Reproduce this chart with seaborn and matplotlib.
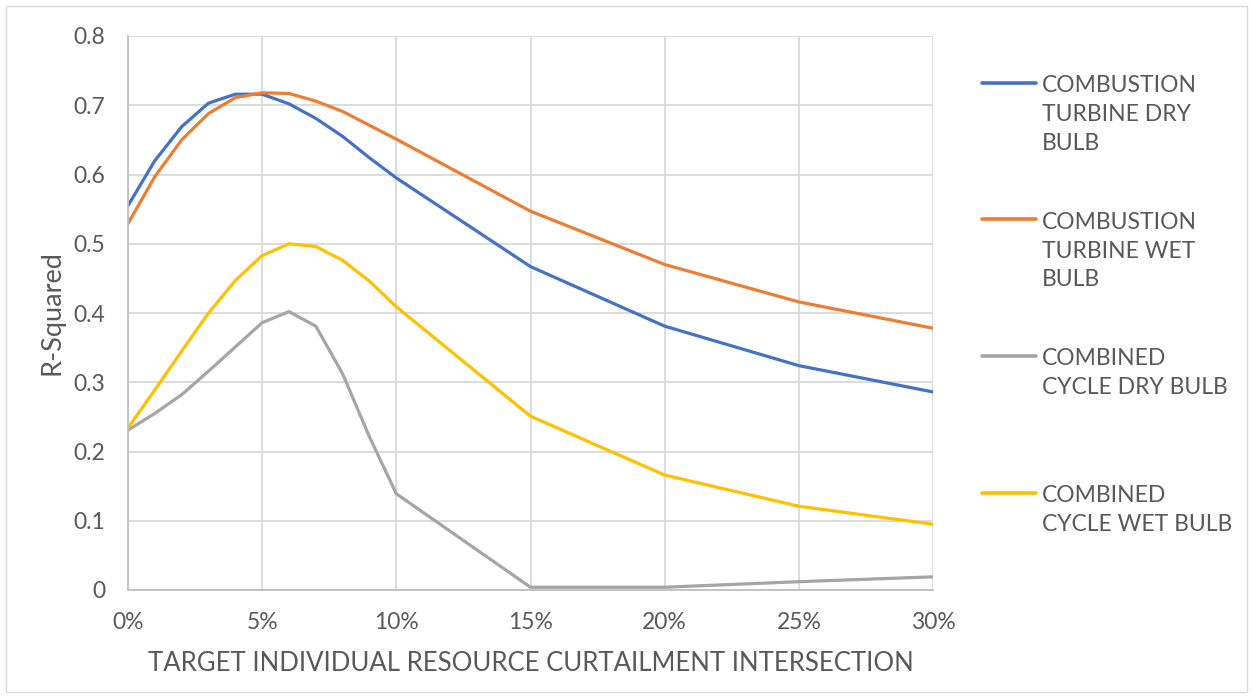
import matplotlib
matplotlib.use("Agg")
import matplotlib.pyplot as plt
import seaborn as sns
import pandas as pd
from matplotlib.lines import Line2D
from matplotlib.patches import Rectangle

x_pct = [0, 1, 2, 3, 4, 5, 6, 7, 8, 9, 10, 15, 20, 25, 30]
ct_dry = [0.555, 0.620, 0.669, 0.703, 0.716, 0.716, 0.702, 0.681, 0.655, 0.624, 0.595, 0.467, 0.381, 0.324, 0.286]
ct_wet = [0.529, 0.597, 0.650, 0.688, 0.711, 0.718, 0.717, 0.706, 0.691, 0.671, 0.651, 0.547, 0.470, 0.416, 0.378]
cc_dry = [0.231, 0.255, 0.282, 0.316, 0.351, 0.386, 0.402, 0.381, 0.312, 0.221, 0.139, 0.004, 0.004, 0.012, 0.019]
cc_wet = [0.234, 0.289, 0.345, 0.400, 0.447, 0.483, 0.500, 0.496, 0.476, 0.446, 0.409, 0.251, 0.166, 0.121, 0.095]
series_names = ["COMBUSTION TURBINE DRY BULB", "COMBUSTION TURBINE WET BULB",
                "COMBINED CYCLE DRY BULB", "COMBINED CYCLE WET BULB"]
legend_lines = [["COMBUSTION", "TURBINE DRY", "BULB"],
                ["COMBUSTION", "TURBINE WET", "BULB"],
                ["COMBINED", "CYCLE DRY BULB"],
                ["COMBINED", "CYCLE WET BULB"]]
colors = ["#4472C4", "#ED7D31", "#A5A5A5", "#FFC000"]
x_ticks = [0, 5, 10, 15, 20, 25, 30]
x_tick_labels = ["0%", "5%", "10%", "15%", "20%", "25%", "30%"]
y_ticks = [0, 0.1, 0.2, 0.3, 0.4, 0.5, 0.6, 0.7, 0.8]
y_tick_labels = ["0", "0.1", "0.2", "0.3", "0.4", "0.5", "0.6", "0.7", "0.8"]

rows = []
for name, vals in zip(series_names, [ct_dry, ct_wet, cc_dry, cc_wet]):
    for xv, yv in zip(x_pct, vals):
        rows.append({"x": xv, "y": yv, "series": name})
df = pd.DataFrame(rows)

sns.set_style("white")
plt.rcParams["font.family"] = ["Lato", "DejaVu Sans"]
text_color = "#595959"

W, H = 1253, 698
fig = plt.figure(figsize=(W / 100, H / 100), dpi=100)
ax = fig.add_axes([128 / W, (H - 590) / H, (933 - 128) / W, (590 - 36) / H])

sns.lineplot(data=df, x="x", y="y", hue="series", hue_order=series_names,
             palette=colors, linewidth=2.3, ax=ax, legend=False, sort=False)

ax.set_xlim(0, 30)
ax.set_ylim(0, 0.8)
ax.set_xticks(x_ticks)
ax.set_xticklabels(x_tick_labels)
ax.set_yticks(y_ticks)
ax.set_yticklabels(y_tick_labels)
ax.grid(True, color="#D9D9D9", linewidth=1.3)
ax.set_axisbelow(True)
for s in ["top", "right"]:
    ax.spines[s].set_visible(False)
for s in ["left", "bottom"]:
    ax.spines[s].set_color("#BFBFBF")
    ax.spines[s].set_linewidth(1.3)
ax.tick_params(axis="both", length=0, labelsize=16.5, labelcolor=text_color)
ax.tick_params(axis="x", pad=16)
ax.tick_params(axis="y", pad=16.5)
ax.set_xlabel("TARGET INDIVIDUAL RESOURCE CURTAILMENT INTERSECTION",
              fontsize=18.5, color=text_color)
ax.set_ylabel("R-Squared", fontsize=19.5, color=text_color)
ax.xaxis.set_label_coords(0.5, (590 - 651) / 554)
ax.yaxis.set_label_coords((65 - 128) / 805, 0.5)

# manual legend (handles aligned with first text line, as in reference)
leg_y = [82.7, 219.3, 356.0, 492.7]
for lines, col, yy in zip(legend_lines, colors, leg_y):
    fy = 1 - yy / H
    fig.add_artist(Line2D([982 / W, 1036 / W], [fy, fy], color=col, linewidth=2.6,
                          solid_capstyle="round", transform=fig.transFigure))
    for i, ln in enumerate(lines):
        base = yy + 9.2 + 29 * i
        fig.text(1042 / W, 1 - base / H, ln, ha="left", va="baseline",
                 fontsize=16.5, color=text_color)

fig.add_artist(Rectangle((6 / W, 6 / H), (1247 - 6) / W, (692 - 6) / H,
                         transform=fig.transFigure, fill=False,
                         edgecolor="#D9D9D9", linewidth=1.0))

fig.savefig("out.png", dpi=100, facecolor="white")
